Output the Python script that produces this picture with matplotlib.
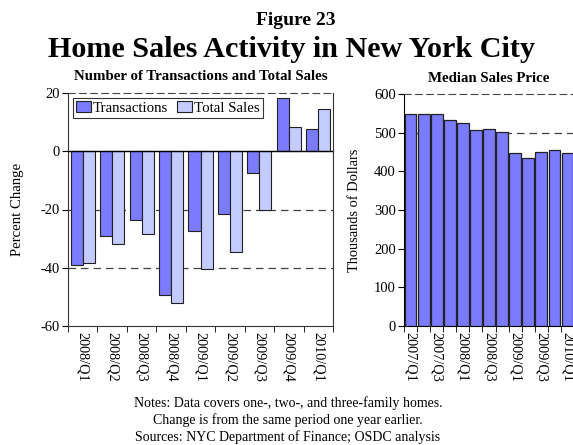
import matplotlib
matplotlib.use("Agg")
import matplotlib.pyplot as plt
import numpy as np

plt.rcParams['font.family'] = ['Liberation Serif', 'DejaVu Serif']

quarters_left = ["2008/Q1", "2008/Q2", "2008/Q3", "2008/Q4", "2009/Q1",
                 "2009/Q2", "2009/Q3", "2009/Q4", "2010/Q1"]
transactions = [-39, -29, -23.7, -49.5, -27.3, -21.6, -7.6, 18.2, 7.8]
total_sales = [-38.2, -31.8, -28.3, -52.2, -40.3, -34.6, -20, 8.2, 14.5]

quarters_right = ["2007/Q1", "2007/Q2", "2007/Q3", "2007/Q4", "2008/Q1", "2008/Q2",
                  "2008/Q3", "2008/Q4", "2009/Q1", "2009/Q2", "2009/Q3", "2009/Q4",
                  "2010/Q1"]
median_price = [549, 549, 549, 534, 525, 508, 509.5, 502, 447, 434.5, 451, 455, 447]

c_trans = "#7B7BFF"
c_total = "#C3CBFF"

W, H = 573, 445
fig = plt.figure(figsize=(W / 100, H / 100), dpi=100)

def ax_rect(x0, y0, x1, y1):
    return [x0 / W, 1 - y1 / H, (x1 - x0) / W, (y1 - y0) / H]

fig.text(296 / W, 1 - 25 / H, "Figure 23", ha="center", va="baseline",
         fontsize=14, fontweight="bold")
fig.text(291 / W, 1 - 57 / H, "Home Sales Activity in New York City", ha="center",
         va="baseline", fontsize=21.7, fontweight="bold")

# Left chart
ax1 = fig.add_axes(ax_rect(68, 93, 333, 326))
x = np.arange(len(quarters_left))
bw = 0.41
ax1.bar(x - bw / 2, transactions, bw, color=c_trans, edgecolor="#222222",
        linewidth=0.8, label="Transactions", zorder=3)
ax1.bar(x + bw / 2, total_sales, bw, color=c_total, edgecolor="#222222",
        linewidth=0.8, label="Total Sales", zorder=3)
ax1.set_xlim(-0.5, len(quarters_left) - 0.5)
ax1.set_ylim(-60, 20)
ax1.set_yticks([-60, -40, -20, 0, 20])
ax1.set_yticklabels(["-60", "-40", "-20", "0", "20"])
for yv in [-40, -20]:
    ax1.axhline(yv, color="#444444", linestyle=(0, (6, 4)), linewidth=0.9, zorder=1)
ax1.axhline(0, color="black", linewidth=1.0, zorder=4)
ax1.spines['top'].set_linestyle((0, (6, 4)))
ax1.spines['top'].set_color("#444444")
for s in ['left', 'bottom', 'right']:
    ax1.spines[s].set_color("#333333")
ax1.set_xticks(x)
ax1.set_xticklabels(quarters_left, rotation=-90, fontsize=10.3)
ax1.set_xticks(np.arange(-0.5, len(quarters_left)), minor=True)
ax1.tick_params(axis='x', which='major', length=0, pad=4)
ax1.tick_params(axis='x', which='minor', length=4, direction='out')
ax1.tick_params(axis='y', labelsize=10.5, length=4, direction='out', pad=2)
ax1.set_ylabel("Percent Change", fontsize=10.6)
ax1.yaxis.set_label_coords((24 - 68) / 265, 0.5)
ax1.set_title("Number of Transactions and Total Sales", fontsize=10.7,
              fontweight="bold", pad=9)
leg = ax1.legend(loc="upper left", ncol=2, fontsize=10.7, frameon=True,
                 fancybox=False, edgecolor="black", handlelength=1.0,
                 handleheight=0.8, handletextpad=0.15, columnspacing=0.6,
                 borderpad=0.2, borderaxespad=0.0,
                 bbox_to_anchor=((73 - 68) / 265, 1 - (98 - 93) / 233))
leg.get_frame().set_linewidth(0.8)

# Right chart
ax2 = fig.add_axes(ax_rect(404, 94, 574, 326))
xr = np.arange(len(quarters_right))
ax2.bar(xr, median_price, 0.9, color=c_trans, edgecolor="#222222",
        linewidth=0.9, zorder=3)
ax2.set_xlim(-0.5, len(quarters_right) - 0.5)
ax2.set_ylim(0, 600)
ax2.set_yticks(np.arange(0, 601, 100))
for yv in [500]:
    ax2.axhline(yv, color="#444444", linestyle=(0, (6, 4)), linewidth=0.9, zorder=1)
ax2.spines['top'].set_linestyle((0, (6, 4)))
ax2.spines['top'].set_color("#444444")
ax2.spines['right'].set_visible(False)
ax2.set_xticks(xr[::2])
ax2.set_xticklabels(quarters_right[::2], rotation=-90, fontsize=10.3)
ax2.set_xticks(np.arange(-0.5, len(quarters_right)), minor=True)
ax2.tick_params(axis='x', which='major', length=0, pad=4)
ax2.tick_params(axis='x', which='minor', length=4, direction='out')
ax2.tick_params(axis='y', labelsize=10.5, length=4, direction='out', pad=2)
ax2.set_ylabel("Thousands of Dollars", fontsize=10.4)
ax2.yaxis.set_label_coords((361 - 404) / 170, 0.5)
ax2.set_title("Median Sales Price", fontsize=10.7, fontweight="bold", pad=9)

notes = ["Notes: Data covers one-, two-, and three-family homes.",
         "Change is from the same period one year earlier.",
         "Sources: NYC Department of Finance; OSDC analysis"]
for i, line in enumerate(notes):
    fig.text(288 / W, 1 - (403 + i * 17) / H, line, ha="center", va="center",
             fontsize=10)

fig.savefig("out.png", dpi=100)
